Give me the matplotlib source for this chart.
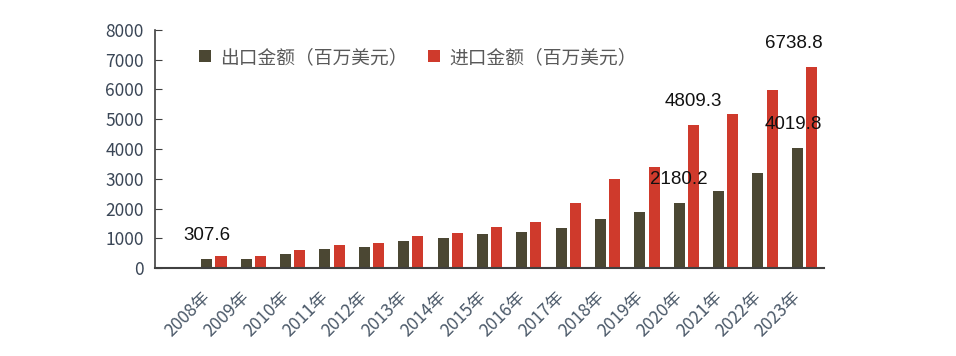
import numpy as np
import matplotlib
matplotlib.use('Agg')
import matplotlib.pyplot as plt

plt.rcParams['font.family'] = ['Noto Sans CJK SC', 'DejaVu Sans']

years = ['2008年', '2009年', '2010年', '2011年', '2012年', '2013年', '2014年', '2015年',
         '2016年', '2017年', '2018年', '2019年', '2020年', '2021年', '2022年', '2023年']
exports = [307.6, 300, 470, 628, 707, 897, 998, 1133,
           1212, 1346, 1660, 1885, 2180.2, 2602, 3186, 4019.8]
imports = [390, 415, 606, 763, 841, 1077, 1166, 1380,
           1537, 2187, 2995, 3410, 4809.3, 5183, 5968, 6738.8]

dark = '#4b4733'
red = '#cf3a2c'

fig = plt.figure(figsize=(9.56, 3.56), dpi=100)
ax = fig.add_axes([0.162, 0.247, 0.700, 0.669])

x = np.arange(len(years))
w = 0.28
ax.bar(x - 0.18, exports, w, color=dark, label='出口金额（百万美元）')
ax.bar(x + 0.18, imports, w, color=red, label='进口金额（百万美元）')

ax.set_xlim(-1.5, 15.5)
ax.set_ylim(0, 8000)
ax.set_yticks(range(0, 8001, 1000))
ax.set_xticks(x)
ax.set_xticklabels(years, rotation=45, ha='right')

for s in ['top', 'right']:
    ax.spines[s].set_visible(False)
ax.spines['left'].set_color('#404040')
ax.spines['bottom'].set_color('#404040')
ax.spines['bottom'].set_linewidth(1.5)
ax.spines['left'].set_linewidth(1.2)
ax.tick_params(axis='y', direction='in', length=5, color='#404040',
               labelsize=12.5, labelcolor='#3a4656', pad=8)
ax.tick_params(axis='x', length=0, labelsize=12.5, labelcolor='#4a5868', pad=14)

# value labels
lab = dict(ha='center', va='center', fontsize=13.5, color='#111111',
           textcoords='offset points', family=['Liberation Sans', 'DejaVu Sans'])
ax.annotate('307.6', (0 - 0.18, exports[0]), xytext=(0, 17), **lab)
ax.annotate('2180.2', (12 - 0.18, exports[12]), xytext=(0, 17), **lab)
ax.annotate('4809.3', (12 + 0.18, imports[12]), xytext=(0, 17), **lab)
ax.annotate('4019.8', (15 - 0.28, exports[15]), xytext=(0, 17), **lab)
ax.annotate('6738.8', (15 - 0.28, imports[15]), xytext=(0, 17), **lab)

ax.legend(loc='upper left', bbox_to_anchor=(0.04, 1.0), ncol=2, frameon=False,
          fontsize=13.5, labelcolor='#595959', handlelength=0.65, handleheight=0.65,
          handletextpad=0.5, columnspacing=1.1)

fig.savefig('out.png', dpi=100)
